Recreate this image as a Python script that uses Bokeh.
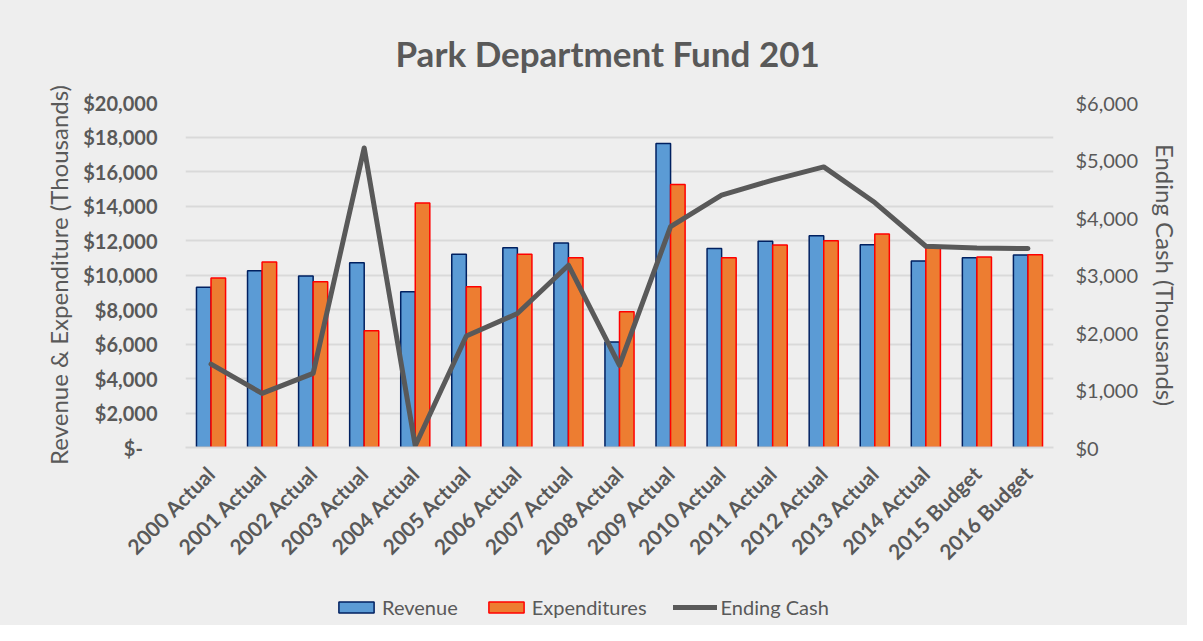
import math
from bokeh.plotting import figure
from bokeh.layouts import column
from bokeh.models import (ColumnDataSource, FactorRange, Range1d, LinearAxis, Legend,
                          LegendItem, NumeralTickFormatter, CustomJSTickFormatter, FixedTicker)
from bokeh.transform import dodge
from bokeh.embed import file_html
from bokeh.resources import INLINE

years = ["2000 Actual", "2001 Actual", "2002 Actual", "2003 Actual", "2004 Actual",
         "2005 Actual", "2006 Actual", "2007 Actual", "2008 Actual", "2009 Actual",
         "2010 Actual", "2011 Actual", "2012 Actual", "2013 Actual", "2014 Actual",
         "2015 Budget", "2016 Budget"]
revenue = [9290, 10250, 9940, 10710, 9030, 11200, 11580, 11860, 6120, 17630,
           11530, 11950, 12280, 11760, 10810, 11000, 11160]
expenditures = [9830, 10750, 9610, 6770, 14170, 9320, 11200, 11000, 7870, 15240,
                11000, 11740, 11990, 12380, 11580, 11040, 11170]
ending_cash = [1450, 940, 1290, 5210, 30, 1940, 2330, 3170, 1430, 3840,
               4390, 4650, 4880, 4260, 3500, 3470, 3460]
left_ticks = list(range(0, 20001, 2000))
right_ticks = list(range(0, 6001, 1000))

FONT = "Lato"
TXT = "#595959"
BG = "#EEEEEE"
GRID = "#D9D9D9"
REV_STYLE = dict(fill_color="#5B9BD5", line_color="#002060", line_width=1.5)
EXP_STYLE = dict(fill_color="#ED7D31", line_color="#FF0000", line_width=1.5)
CASH_STYLE = dict(line_color="#595959", line_width=5, line_join="round", line_cap="round")

src = ColumnDataSource(dict(year=years, revenue=revenue, expenditures=expenditures,
                            cash=ending_cash))

p = figure(x_range=FactorRange(*years), y_range=Range1d(0, 20000),
           frame_width=868, frame_height=345, output_backend="svg", toolbar_location=None,
           title="Park Department Fund 201",
           min_border_left=185, min_border_right=134, min_border_top=102,
           min_border_bottom=138)
p.background_fill_color = BG
p.border_fill_color = BG
p.outline_line_color = None

p.title.align = "left"
p.title.offset = 210
p.title.standoff = 57
p.title.text_font = FONT
p.title.text_font_size = "35px"
p.title.text_font_style = "bold"
p.title.text_color = TXT

p.extra_y_ranges = {"cash": Range1d(0, 6000)}

w = 0.285
r1 = p.vbar(x=dodge("year", -w / 2, range=p.x_range), top="revenue", width=w, source=src,
            **REV_STYLE)
r2 = p.vbar(x=dodge("year", w / 2, range=p.x_range), top="expenditures", width=w, source=src,
            **EXP_STYLE)
r3 = p.line(x="year", y="cash", source=src, y_range_name="cash", **CASH_STYLE)

# grid
p.xgrid.grid_line_color = None
p.ygrid.grid_line_color = GRID
p.ygrid.grid_line_width = 2
p.ygrid.ticker = FixedTicker(ticks=left_ticks)

# left axis
ya = p.yaxis[0]
ya.ticker = FixedTicker(ticks=left_ticks)
ya.formatter = CustomJSTickFormatter(code="""
    if (tick == 0) { return "$-\u00a0\u00a0\u00a0"; }
    return "$" + tick.toLocaleString("en-US");
""")
ya.axis_label = "Revenue & Expenditure (Thousands)"
ya.axis_line_color = None
ya.major_tick_line_color = None
ya.minor_tick_line_color = None
ya.major_tick_out = 0
ya.minor_tick_out = 0
ya.major_label_standoff = 28
ya.major_label_text_font = FONT
ya.major_label_text_font_size = "20px"
ya.major_label_text_font_style = "bold"
ya.major_label_text_color = TXT
ya.axis_label_text_font = FONT
ya.axis_label_text_font_size = "24px"
ya.axis_label_text_font_style = "normal"
ya.axis_label_text_color = TXT
ya.axis_label_standoff = 7

# right axis
ra = LinearAxis(y_range_name="cash", ticker=FixedTicker(ticks=right_ticks),
                formatter=NumeralTickFormatter(format="$0,0"))
ra.axis_label = "Ending Cash (Thousands)"
ra.axis_line_color = None
ra.major_tick_line_color = None
ra.minor_tick_line_color = None
ra.major_tick_out = 0
ra.minor_tick_out = 0
ra.major_label_standoff = 22
ra.major_label_text_font = FONT
ra.major_label_text_font_size = "20px"
ra.major_label_text_color = TXT
ra.axis_label_text_font = FONT
ra.axis_label_text_font_size = "24px"
ra.axis_label_text_font_style = "normal"
ra.axis_label_text_color = TXT
ra.axis_label_standoff = 10
p.add_layout(ra, "right")

# x axis
xa = p.xaxis[0]
xa.axis_line_color = GRID
xa.axis_line_width = 2
xa.major_tick_line_color = None
xa.minor_tick_line_color = None
xa.major_tick_out = 0
xa.minor_tick_out = 0
xa.major_label_orientation = math.pi / 4
xa.major_label_standoff = 22
xa.major_label_text_font = FONT
xa.major_label_text_font_size = "21px"
xa.major_label_text_font_style = "bold"
xa.major_label_text_color = TXT

# legend strip below the chart; the same series are attached but hidden so that
# only their legend samples show
lg = figure(width=1187, height=40, output_backend="svg", toolbar_location=None,
            x_range=FactorRange(*years), y_range=Range1d(-2, -1),
            x_axis_type=None, y_axis_type=None,
            min_border_left=0, min_border_right=0, min_border_top=0, min_border_bottom=0)
lg.background_fill_color = BG
lg.border_fill_color = BG
lg.outline_line_color = None
lg.grid.visible = False
s1 = lg.vbar(x="year", top="revenue", width=w, source=src, **REV_STYLE)
s2 = lg.vbar(x="year", top="expenditures", width=w, source=src, **EXP_STYLE)
s3 = lg.line(x="year", y="cash", source=src, **CASH_STYLE)
for s in (s1, s2, s3):
    s.visible = False

legend = Legend(items=[LegendItem(label="Revenue", renderers=[s1]),
                       LegendItem(label="Expenditures", renderers=[s2]),
                       LegendItem(label="Ending Cash", renderers=[s3])],
                orientation="horizontal", location=(149, 6))
legend.background_fill_alpha = 0
legend.border_line_color = None
legend.inactive_fill_alpha = 0
legend.label_text_font = FONT
legend.label_text_font_size = "20px"
legend.label_text_color = TXT
legend.glyph_width = 44
legend.glyph_height = 14
legend.label_standoff = 4
legend.spacing = 26
legend.margin = 0
legend.padding = 4
lg.add_layout(legend, "center")

layout = column(p, lg, spacing=0)
layout.styles = {"background-color": BG}

open("out.html", "w").write(file_html(layout, INLINE))
